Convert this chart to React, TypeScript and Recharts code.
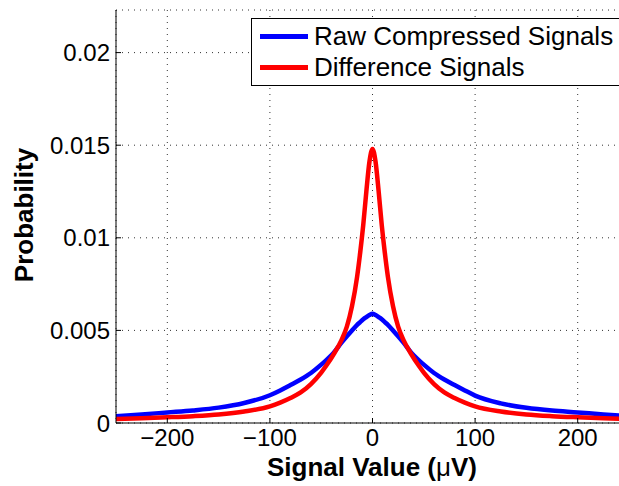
import { LineChart, Line, XAxis, YAxis, CartesianGrid, Legend } from 'recharts'

// signal value (µV) sample positions
const SIGNAL_VALUES = [
  -250, -225, -200, -175, -150, -125, -100, -90, -80, -70, -60, -50, -45, -38, -30, -25, -20, -15, -12, -9, -6, -3,
  0, 3, 6, 9, 12, 15, 20, 25, 30, 38, 45, 50, 60, 70, 80, 90, 100, 125, 150, 175, 200, 225, 250,
]

// probability
const RAW_COMPRESSED = [
  0.00037, 0.00046, 0.00057, 0.00068, 0.00083, 0.00108, 0.0015, 0.00176, 0.00205, 0.00235, 0.0027, 0.00315, 0.0034, 0.00378, 0.00435, 0.00468, 0.005, 0.0053, 0.00545, 0.0056, 0.00572, 0.00583,
  0.0059, 0.00583, 0.00572, 0.0056, 0.00545, 0.0053, 0.005, 0.00468, 0.00435, 0.00378, 0.0034, 0.00315, 0.0027, 0.00235, 0.00205, 0.00176, 0.00148, 0.00106, 0.00082, 0.00067, 0.00057, 0.00046, 0.00037,
]

const DIFFERENCE = [
  0.00022, 0.00026, 0.00031, 0.00037, 0.00046, 0.00062, 0.0009, 0.0011, 0.00135, 0.00165, 0.0021, 0.00272, 0.0031, 0.0037, 0.0045, 0.0052, 0.0063, 0.0079, 0.0092, 0.0107, 0.0125, 0.0141,
  0.0148, 0.0141, 0.0125, 0.0107, 0.0092, 0.0079, 0.0063, 0.0052, 0.0045, 0.0037, 0.0031, 0.00272, 0.0021, 0.00165, 0.00135, 0.0011, 0.0009, 0.00062, 0.00046, 0.00037, 0.00031, 0.00026, 0.00022,
]

const X_TICKS = [-200, -100, 0, 100, 200]
const Y_TICKS = [0, 0.005, 0.01, 0.015, 0.02]

const SERIES = [
  { key: 'raw', name: 'Raw Compressed Signals', color: '#0000ff' },
  { key: 'diff', name: 'Difference Signals', color: '#ff0000' },
]

const data = SIGNAL_VALUES.map((x, i) => ({ x, raw: RAW_COMPRESSED[i], diff: DIFFERENCE[i] }))

const FONT = '"Liberation Sans", Arial, Helvetica, sans-serif'

function LegendBox() {
  return (
    <div
      style={{
        width: 380,
        height: 68,
        border: '1px solid #000',
        background: '#fff',
        boxSizing: 'border-box',
        fontFamily: FONT,
        fontSize: 26,
        color: '#000',
        paddingTop: 2,
      }}
    >
      {SERIES.map(s => (
        <div key={s.key} style={{ display: 'flex', alignItems: 'center', height: 31 }}>
          <span style={{ display: 'inline-block', width: 48, height: 5, background: s.color, marginLeft: 8, marginRight: 6 }} />
          <span style={{ lineHeight: '31px', whiteSpace: 'nowrap' }}>{s.name}</span>
        </div>
      ))}
    </div>
  )
}

export default function App() {
  const tickStyle = { fontSize: 24, fill: '#000', fontFamily: FONT }
  return (
    <div style={{ position: 'absolute', left: 0, top: 0, width: 619, height: 486, overflow: 'hidden', background: '#fff' }}>
      <LineChart width={629} height={486} data={data} margin={{ top: 10, right: 0, bottom: 0, left: 0 }}>
        <CartesianGrid stroke="#333" strokeDasharray="1 5" />
        <XAxis
          dataKey="x"
          type="number"
          domain={[-250, 250]}
          ticks={X_TICKS}
          allowDataOverflow
          height={63}
          tickSize={-5}
          tickMargin={11}
          stroke="#000"
          tick={tickStyle}
          tickFormatter={v => (v < 0 ? '\u2212' + Math.abs(v) : String(v))}
          label={{
            content: () => (
              <text x={372} y={476} textAnchor="middle" fontFamily={FONT} fontSize={26} fontWeight="bold" fill="#000">
                Signal Value (<tspan fontWeight="normal">μ</tspan>V)
              </text>
            ),
          }}
        />
        <XAxis
          xAxisId="top"
          orientation="top"
          type="number"
          domain={[-250, 250]}
          ticks={X_TICKS}
          allowDataOverflow
          height={0}
          tickSize={-5}
          tick={false}
          stroke="#000"
        />
        <YAxis
          type="number"
          domain={[0, 0.0223]}
          ticks={Y_TICKS}
          allowDataOverflow
          width={116}
          tickSize={-5}
          tickMargin={11}
          stroke="#000"
          tick={tickStyle}
          label={{
            content: () => (
              <text
                x={0}
                y={0}
                transform="translate(33,215) rotate(-90)"
                textAnchor="middle"
                fontFamily={FONT}
                fontSize={26}
                fontWeight="bold"
                fill="#000"
              >
                Probability
              </text>
            ),
          }}
        />
        <Legend
          layout="vertical"
          align="center"
          verticalAlign="middle"
          content={() => <LegendBox />}
          wrapperStyle={{ position: 'absolute', left: 251, top: 18, width: 380, height: 68 }}
        />
        {SERIES.map(s => (
          <Line
            key={s.key}
            type="monotone"
            dataKey={s.key}
            name={s.name}
            stroke={s.color}
            strokeWidth={4.5}
            dot={false}
            activeDot={false}
            isAnimationActive={false}
          />
        ))}
      </LineChart>
    </div>
  )
}
